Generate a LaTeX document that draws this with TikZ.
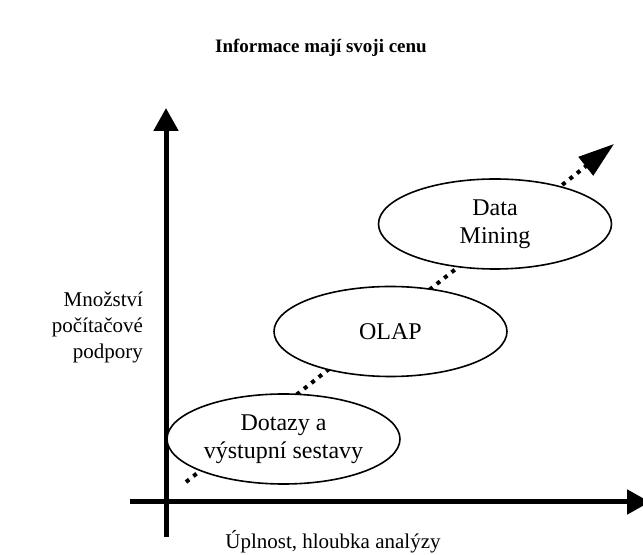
\documentclass[tikz,border=0pt]{standalone}
\usepackage{fontspec}
\setmainfont{Liberation Serif}
\usetikzlibrary{arrows.meta,shapes.geometric}
\tikzset{
	fazebox/.style={ellipse, draw, fill=white, line width=0.8pt, minimum width=116.5pt, minimum height=45pt, inner sep=0pt, align=center},
	osaline/.style={line width=2.5pt, -{Triangle[length=11.5pt,width=12pt]}},
	trendline/.style={line width=2pt, dash pattern=on 2pt off 2.7pt, -{Triangle[length=18pt,width=11.5pt]}},
	osatext/.style={font=\fontsize{10.5}{13}\selectfont}
}

\begin{document}
\begin{tikzpicture}[x=0.5pt, y=-0.5pt, font=\fontsize{12}{13.8}\selectfont]
			%%%%% START %%%%%
			\useasboundingbox (0, 0) rectangle (643, 555);
			
			\node[font=\fontsize{9.5}{11}\selectfont\bfseries] (titul) at (321, 48) {Informace mají svoji cenu};
			
			\coordinate (osa0) at (166, 502);
			\coordinate (osaY0) at (166, 537);
			\coordinate (osaY1) at (166, 108);
			\coordinate (osaX0) at (130, 502);
			\coordinate (osaX1) at (650, 502);
			\draw[osaline] (osaY0) -- (osaY1);
			\draw[osaline] (osaX0) -- (osaX1);
			
			\coordinate (trend0) at (186, 482);
			\coordinate (trend1) at (614, 144);
			\draw[trendline] (trend0) -- (trend1);
			
			\node[fazebox] (dotazy) at (283.5, 439) {Dotazy a\\výstupní sestavy};
			\node[fazebox] (olap) at (390.5, 331.5) {OLAP};
			\node[fazebox] (mining) at (495, 224) {Data\\Mining};
			
			\node[osatext, align=right, anchor=east] (osaYtext) at (150, 327) {Množství\\počítačové\\podpory};
			\node[osatext] (osaXtext) at (333, 542) {Úplnost, hloubka analýzy};
			%%%%% END %%%%%
		\end{tikzpicture}
\end{document}
